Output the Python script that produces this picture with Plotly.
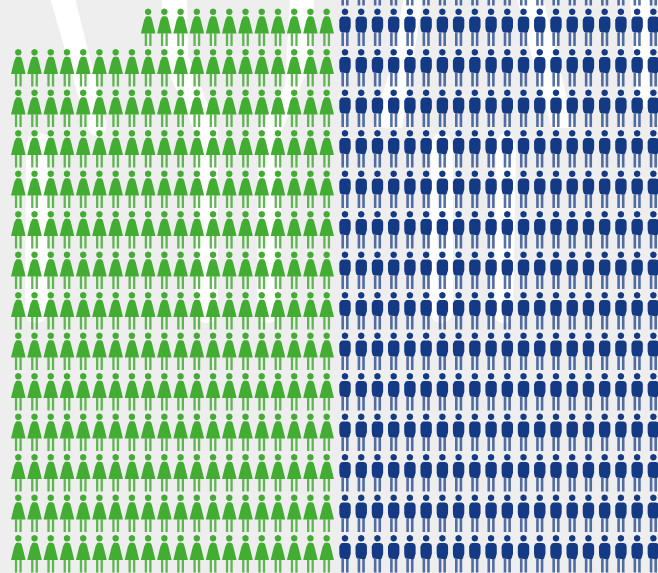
import numpy as np
import plotly.graph_objects as go

# ---- data: number of people drawn in each row (row 0 is cut by the top edge)
rows = list(range(15))
women_per_row = [0, 12, 20, 20, 20, 20, 20, 20, 20, 20, 20, 20, 20, 20, 20]
men_per_row = [20, 20, 20, 20, 20, 20, 20, 20, 20, 20, 20, 20, 20, 20, 20]
women_columns = 20

GREEN = "#43ac32"
BLUE = "#143a85"
BG = "#eeeeee"
W, H = 658, 573
DX, DY = 16.23, 40.5
X0, Y1 = 18.3, 11.8  # pixel position of column 0 head, row 1 head
BLUE_GAP = (345.0 - 18.3) / DX - 20


def circle(r, cy, n=20):
    t = np.linspace(0, 2 * np.pi, n, endpoint=False)
    return list(zip(r * np.cos(t), cy + r * np.sin(t)))


def mirror(right):
    return right + [(-x, y) for x, y in reversed(right)]


HEAD = circle(3.3, 0)
DRESS = mirror([(0.8, 4.4), (2.2, 4.7), (3.2, 5.8), (4.0, 8.2), (7.0, 20.4), (7.2, 21.8)])
W_LEGS = [[(-3.4, 21.5), (-1.1, 21.5), (-1.1, 34.2), (-3.4, 34.2)],
          [(1.1, 21.5), (3.4, 21.5), (3.4, 34.2), (1.1, 34.2)]]
TORSO = mirror([(2.4, 4.8), (4.2, 5.2), (5.2, 6.2), (5.7, 8.0), (5.7, 15.5), (5.2, 18.5), (4.3, 20.2), (3.2, 20.9)])
M_LEGS = [[(-3.6, 20.5), (-1.0, 20.5), (-1.0, 34.2), (-3.6, 34.2)],
          [(1.0, 20.5), (3.6, 20.5), (3.6, 34.2), (1.0, 34.2)]]


def polys(cells, shapes):
    xs, ys = [], []
    for c, r in cells:
        for shp in shapes:
            for px, py in shp:
                xs.append(c + px / DX)
                ys.append(r + py / DY)
            xs.append(c + shp[0][0] / DX)
            ys.append(r + shp[0][1] / DY)
            xs.append(None)
            ys.append(None)
    return xs, ys


women = [(c, r) for r, n in zip(rows, women_per_row) for c in range(women_columns - n, women_columns)]
men = [(20 + BLUE_GAP + c, r) for r, n in zip(rows, men_per_row) for c in range(n)]


def add(cells, shapes, color, opacity=1.0):
    x, y = polys(cells, shapes)
    fig.add_trace(go.Scatter(x=x, y=y, mode="lines", fill="toself", fillcolor=color,
                             line=dict(width=0, color=color), opacity=opacity,
                             hoverinfo="skip", showlegend=False))


fig = go.Figure()
add(women, W_LEGS, GREEN, 0.85)
add(women, [DRESS, HEAD], GREEN)
add(men, M_LEGS, BLUE, 0.72)
add(men, [TORSO, HEAD], BLUE)


def path(points):
    """points are (cmd, x, y) in picture pixels; Q takes two pairs."""
    out = []
    for item in points:
        if item[0] == "Q":
            _, a, b, c, d = item
            out.append(f"Q {a / W:.5f},{1 - b / H:.5f} {c / W:.5f},{1 - d / H:.5f}")
        else:
            out.append(f"{item[0]} {item[1] / W:.5f},{1 - item[2] / H:.5f}")
    return " ".join(out) + " Z"


swooshes = [
    # left slanted stroke
    [("M", 50, -2), ("L", 75, -2), ("L", 106, 122), ("Q", 108, 135, 97, 136), ("Q", 90, 136, 87, 126), ("L", 50, -2)],
    # left stem
    [("M", 26, 145), ("Q", 28, 133, 40, 133), ("L", 50, 136), ("L", 48, 312), ("Q", 46, 323, 36, 323),
     ("Q", 26, 323, 25, 312)],
    # V with two stems (middle)
    [("M", 162, -2), ("L", 187, -2), ("L", 188, 55), ("L", 218, 130), ("L", 218, 312), ("Q", 216, 323, 206, 323),
     ("Q", 196, 323, 195, 312), ("L", 195, 132), ("L", 163, 60)],
    [("M", 290, -2), ("L", 314, -2), ("L", 312, 60), ("L", 282, 130), ("L", 280, 312), ("Q", 278, 323, 268, 323),
     ("Q", 258, 323, 257, 312), ("L", 258, 132), ("L", 285, 85)],
    # blue side
    [("M", 404, -2), ("L", 423, -2), ("L", 402, 128), ("L", 372, 128), ("L", 390, 70)],
    [("M", 517, -2), ("L", 543, -2), ("L", 574, 128), ("L", 552, 128), ("L", 530, 50)],
    [("M", 630, -2), ("L", 650, -2), ("L", 650, 100), ("L", 660, 128), ("L", 636, 95)],
    [("M", 431, 145), ("Q", 432, 133, 442, 133), ("Q", 452, 136, 453, 150), ("L", 453, 312), ("Q", 451, 323, 441, 323),
     ("Q", 431, 323, 430, 312)],
    [("M", 496, 145), ("Q", 497, 133, 507, 133), ("Q", 515, 136, 516, 150), ("L", 513, 312), ("Q", 511, 323, 503, 323),
     ("Q", 495, 323, 494, 312)],
]
shapes = [dict(type="path", path=path(s), xref="paper", yref="paper", fillcolor="#ffffff",
               line=dict(width=0), layer="below") for s in swooshes]

fig.update_layout(
    width=W, height=H, margin=dict(l=0, r=0, t=0, b=0), showlegend=False,
    paper_bgcolor=BG, plot_bgcolor="rgba(0,0,0,0)", shapes=shapes,
    xaxis=dict(range=[-X0 / DX, (W - X0) / DX], visible=False, fixedrange=True),
    yaxis=dict(range=[1 + (H - Y1) / DY, 1 - Y1 / DY], visible=False, fixedrange=True),
)
fig.write_html("out.html", config={"displayModeBar": False, "responsive": False},
               post_script="document.body.style.margin='0';")
